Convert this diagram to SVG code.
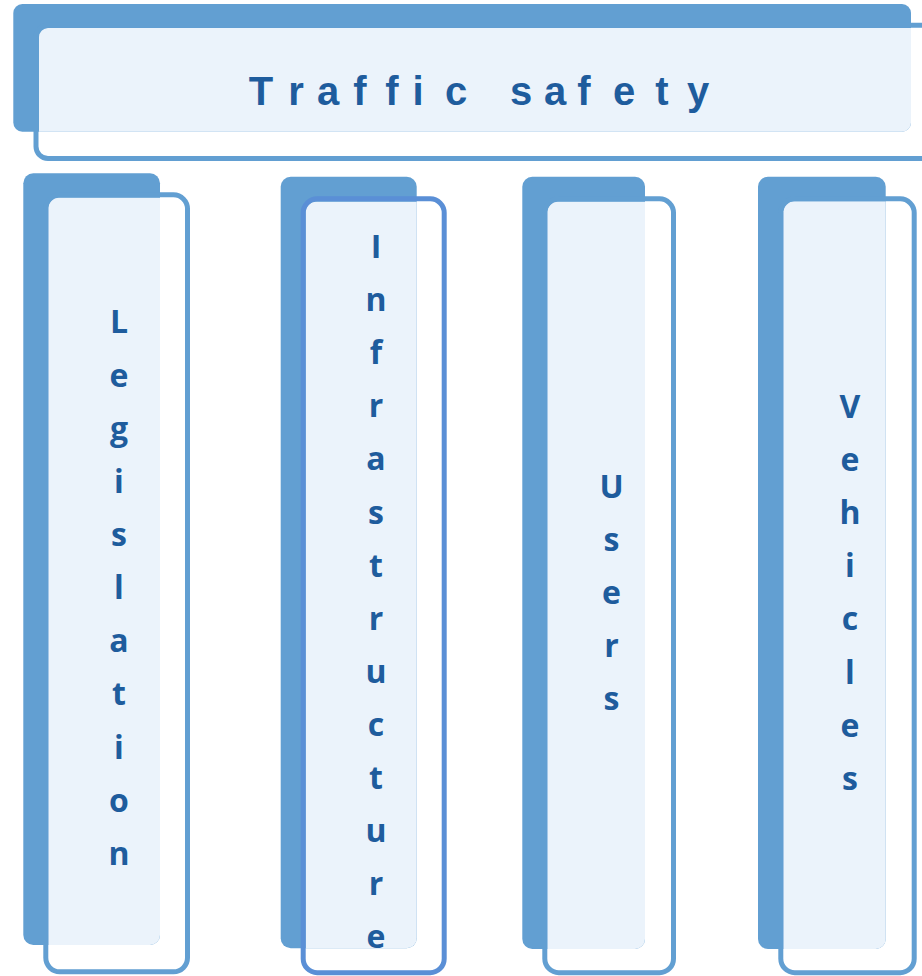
<svg xmlns="http://www.w3.org/2000/svg" width="922" height="976" viewBox="0 0 922 976">
<style>
.back{fill:#629FD2}
.pale{fill:#EBF3FB}
.frame{fill:none;stroke:#629FD2;stroke-width:5}
.frame2{fill:none;stroke:#5A8FD6;stroke-width:5}
.title{font-family:"Liberation Sans",Arial,sans-serif;font-weight:bold;font-size:40px;fill:#1E5C9D}
.lbl{font-family:"Open Sans","Liberation Sans",sans-serif;font-weight:bold;font-size:32px;fill:#1E5C9D;text-anchor:middle}
</style>
<rect width="922" height="976" fill="#FFFFFF"/>
<g id="traffic-safety">
<rect class="back" x="13.3" y="4" width="897.7" height="127.7" rx="9"/>
<path class="pale" d="M39,37 A9,9 0 0 1 48,28 H911 V122.7 A9,9 0 0 1 902,131.7 H39 Z"/>
<rect class="frame" x="36" y="25.3" width="920" height="133.2" rx="12"/>
<text class="title" y="105" x="261 296 328 360 392 418 456 488 521 555 584 624 662 698" text-anchor="middle">Traffic safety</text>
</g>
<g id="legislation">
<rect class="back" x="23.3" y="173.3" width="136.7" height="771.7" rx="10"/>
<path class="pale" d="M48.3,207.7 A10,10 0 0 1 58.3,197.7 H160 V935 A10,10 0 0 1 150,945 H48.3 Z"/>
<rect class="frame" x="45.8" y="194.8" width="141.7" height="777" rx="14"/>
<text class="lbl"><tspan x="119" y="333.3">L</tspan><tspan x="119" y="386.5">e</tspan><tspan x="119" y="439.6">g</tspan><tspan x="119" y="492.8">i</tspan><tspan x="119" y="545.9">s</tspan><tspan x="119" y="599.1">l</tspan><tspan x="119" y="652.2">a</tspan><tspan x="119" y="705.4">t</tspan><tspan x="119" y="758.5">i</tspan><tspan x="119" y="811.7">o</tspan><tspan x="119" y="864.8">n</tspan></text>
</g>
<g id="infrastructure">
<rect class="back" x="280.7" y="176.7" width="136" height="771.6" rx="10"/>
<path class="pale" d="M305.7,211.7 A10,10 0 0 1 315.7,201.7 H416.7 V938.3 A10,10 0 0 1 406.7,948.3 H305.7 Z"/>
<rect class="frame2" x="303.2" y="198.8" width="141" height="773.9" rx="14"/>
<text class="lbl"><tspan x="376" y="258">I</tspan><tspan x="376" y="311.1">n</tspan><tspan x="376" y="364.2">f</tspan><tspan x="376" y="417.3">r</tspan><tspan x="376" y="470.4">a</tspan><tspan x="376" y="523.5">s</tspan><tspan x="376" y="576.6">t</tspan><tspan x="376" y="629.7">r</tspan><tspan x="376" y="682.8">u</tspan><tspan x="376" y="735.9">c</tspan><tspan x="376" y="789">t</tspan><tspan x="376" y="842.1">u</tspan><tspan x="376" y="895.2">r</tspan><tspan x="376" y="948.3">e</tspan></text>
</g>
<g id="users">
<rect class="back" x="522.3" y="176.7" width="122.7" height="772.3" rx="10"/>
<path class="pale" d="M547.3,211.7 A10,10 0 0 1 557.3,201.7 H645 V939 A10,10 0 0 1 635,949 H547.3 Z"/>
<rect class="frame" x="544.8" y="198.8" width="128.7" height="773.9" rx="14"/>
<text class="lbl"><tspan x="611.5" y="497.7">U</tspan><tspan x="611.5" y="550.8">s</tspan><tspan x="611.5" y="603.9">e</tspan><tspan x="611.5" y="657">r</tspan><tspan x="611.5" y="710.1">s</tspan></text>
</g>
<g id="vehicles">
<rect class="back" x="758" y="176.7" width="127.7" height="772.3" rx="10"/>
<path class="pale" d="M783.3,211.3 A10,10 0 0 1 793.3,201.3 H885.7 V939 A10,10 0 0 1 875.7,949 H783.3 Z"/>
<rect class="frame" x="780.8" y="198.8" width="133.4" height="773.9" rx="14"/>
<text class="lbl"><tspan x="850" y="418">V</tspan><tspan x="850" y="471.1">e</tspan><tspan x="850" y="524.2">h</tspan><tspan x="850" y="577.3">i</tspan><tspan x="850" y="630.4">c</tspan><tspan x="850" y="683.5">l</tspan><tspan x="850" y="736.6">e</tspan><tspan x="850" y="789.7">s</tspan></text>
</g>
</svg>
